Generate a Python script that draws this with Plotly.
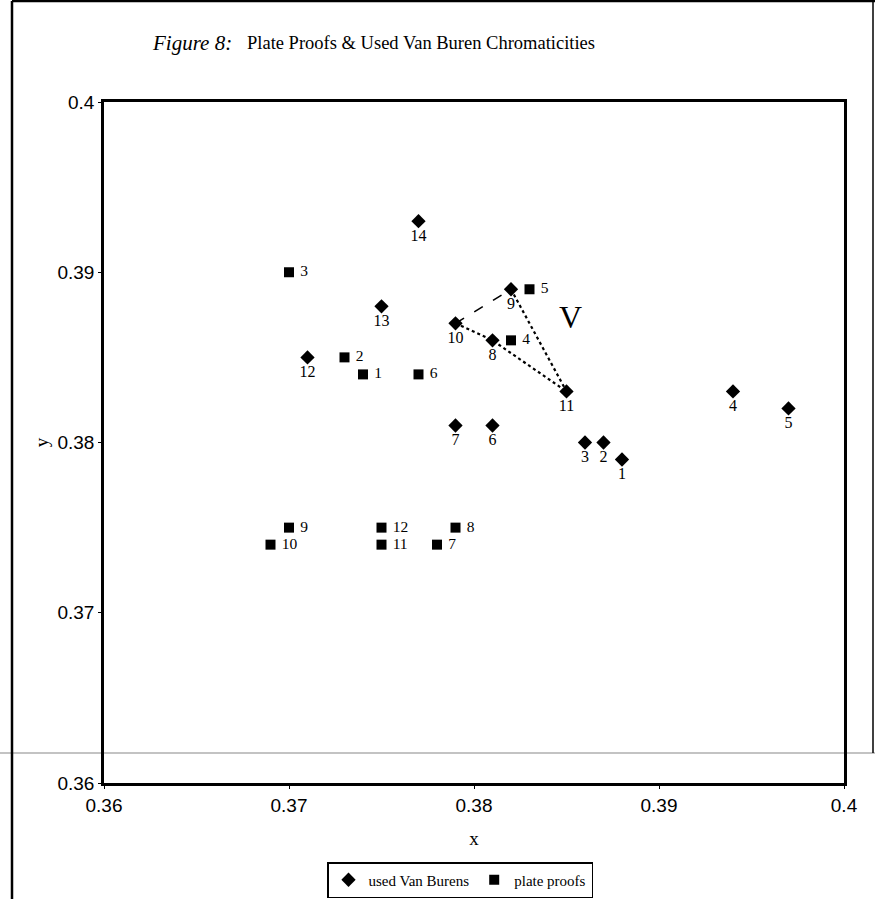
import plotly.graph_objects as go

# Used Van Buren chromaticities (diamonds)
vb_labels = ["1", "2", "3", "4", "5", "6", "7", "8", "9", "10", "11", "12", "13", "14"]
vb_x = [0.388, 0.387, 0.386, 0.394, 0.397, 0.381, 0.379, 0.381, 0.382, 0.379, 0.385, 0.371, 0.375, 0.377]
vb_y = [0.379, 0.380, 0.380, 0.383, 0.382, 0.381, 0.381, 0.386, 0.389, 0.387, 0.383, 0.385, 0.388, 0.393]

# Plate proofs (squares)
pp_labels = ["1", "2", "3", "4", "5", "6", "7", "8", "9", "10", "11", "12"]
pp_x = [0.374, 0.373, 0.370, 0.382, 0.383, 0.377, 0.378, 0.379, 0.370, 0.369, 0.375, 0.375]
pp_y = [0.384, 0.385, 0.390, 0.386, 0.389, 0.384, 0.374, 0.375, 0.375, 0.374, 0.374, 0.375]

# "V" triangle links (by Van Buren number)
dashed_link = ["10", "9"]
dotted_link_a = ["10", "8", "11"]
dotted_link_b = ["9", "11"]

tick_vals = [0.36, 0.37, 0.38, 0.39, 0.40]
tick_text = ["0.36", "0.37", "0.38", "0.39", "0.4"]

SERIF = "Liberation Serif, Times New Roman, serif"
SANS = "Liberation Sans, Arial, sans-serif"

W, H = 875, 899
L, R, T, B = 104, 31, 102, 116
PW, PH = W - L - R, H - T - B


def px(xp):
    return (xp - L) / PW


def py(yp):
    return (H - B - yp) / PH


def pts(labels):
    idx = [vb_labels.index(l) for l in labels]
    return [vb_x[i] for i in idx], [vb_y[i] for i in idx]


fig = go.Figure()

lx, ly = pts(dashed_link)
fig.add_trace(go.Scatter(x=lx, y=ly, mode="lines", showlegend=False, hoverinfo="skip",
                         line=dict(color="black", width=1.6, dash="10px,12px")))
lx, ly = pts(dotted_link_a)
fig.add_trace(go.Scatter(x=lx, y=ly, mode="lines", showlegend=False, hoverinfo="skip",
                         line=dict(color="black", width=2.2, dash="dot")))
lx, ly = pts(dotted_link_b)
fig.add_trace(go.Scatter(x=lx, y=ly, mode="lines", showlegend=False, hoverinfo="skip",
                         line=dict(color="black", width=2.2, dash="dot")))

fig.add_trace(go.Scatter(
    x=vb_x, y=vb_y, mode="markers+text", name="used Van Burens",
    text=vb_labels, textposition="bottom center",
    textfont=dict(family=SERIF, size=16, color="black"),
    marker=dict(symbol="diamond", size=11, color="black"),
))
fig.add_trace(go.Scatter(
    x=pp_x, y=pp_y, mode="markers+text", name="plate proofs",
    text=[" " + t for t in pp_labels], textposition="middle right",
    textfont=dict(family=SERIF, size=15.5, color="black"),
    marker=dict(symbol="square", size=10, color="black"),
))

fig.add_annotation(x=0.3852, y=0.3874, text="V", showarrow=False,
                   font=dict(family=SERIF, size=32, color="black"))

fig.add_annotation(xref="paper", yref="paper", x=px(150), y=py(43), xanchor="left", yanchor="middle",
                   text="<i>Figure 8:</i>", showarrow=False,
                   font=dict(family=SERIF, size=21, color="black"))
fig.add_annotation(xref="paper", yref="paper", x=px(245), y=py(43), xanchor="left", yanchor="middle",
                   text="Plate Proofs &amp; Used Van Buren Chromaticities", showarrow=False,
                   font=dict(family=SERIF, size=18.5, color="black"))

# outer frame of the figure panel
fig.add_shape(type="line", xref="paper", yref="paper",
              x0=px(12), x1=px(12), y0=py(H), y1=py(1),
              line=dict(color="black", width=2.5))
fig.add_shape(type="line", xref="paper", yref="paper",
              x0=px(12), x1=px(W), y0=py(1), y1=py(1),
              line=dict(color="black", width=2.5))
fig.add_shape(type="line", xref="paper", yref="paper",
              x0=px(873), x1=px(873), y0=py(1), y1=py(753),
              line=dict(color="black", width=1.5))
# faint horizontal rule across the panel
fig.add_shape(type="line", xref="paper", yref="paper",
              x0=px(0), x1=px(W), y0=py(753), y1=py(753),
              line=dict(color="#888888", width=1.2), layer="below")

axis_common = dict(
    showgrid=False, zeroline=False, showline=True, linecolor="black", linewidth=2.5,
    mirror=True, ticks="outside", ticklen=3, tickcolor="black",
    tickfont=dict(family=SANS, size=19, color="black"),
    tickvals=tick_vals, ticktext=tick_text, automargin=False,
)

fig.update_layout(
    width=W, height=H,
    margin=dict(l=L, r=R, t=T, b=B, autoexpand=False),
    paper_bgcolor="white", plot_bgcolor="white",
    xaxis=dict(range=[0.36, 0.40], title=dict(text="x", font=dict(family=SERIF, size=19, color="black"),
                                              standoff=18), **axis_common),
    yaxis=dict(range=[0.36, 0.40], title=dict(text="y", font=dict(family=SERIF, size=19, color="black"),
                                              standoff=4), **axis_common),
    legend=dict(orientation="h", x=px(460), xanchor="center", y=py(862), yanchor="top",
                bordercolor="black", borderwidth=1.5, bgcolor="white",
                font=dict(family=SERIF, size=15, color="black"),
                itemwidth=30, tracegroupgap=0),
    showlegend=True,
)

fig.write_html("out.html", config={"displayModeBar": False},
               post_script="document.body.style.margin='0';")
